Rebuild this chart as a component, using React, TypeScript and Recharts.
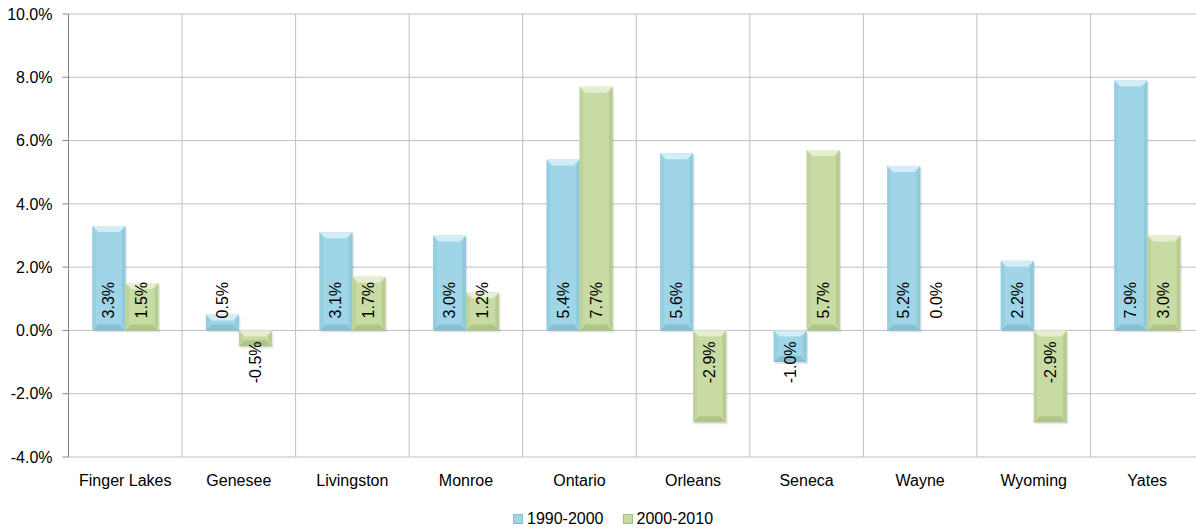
import React from 'react';
import { BarChart, Bar, XAxis, YAxis, CartesianGrid, Legend, LabelList } from 'recharts';

const counties = ['Finger Lakes', 'Genesee', 'Livingston', 'Monroe', 'Ontario', 'Orleans', 'Seneca', 'Wayne', 'Wyoming', 'Yates'];
const growth1990s = [3.3, 0.5, 3.1, 3.0, 5.4, 5.6, -1.0, 5.2, 2.2, 7.9];
const growth2000s = [1.5, -0.5, 1.7, 1.2, 7.7, -2.9, 5.7, 0.0, -2.9, 3.0];
const yTicks = [-4, -2, 0, 2, 4, 6, 8, 10];

const FONT = '"Liberation Sans", Arial, sans-serif';

const palette = {
    blue: { main: '#9fd5e6', light: '#d2edf5', dark: '#88c0d2', side: '#8ec9dc' },
    green: { main: '#c7dba3', light: '#e4eed3', dark: '#afc48a', side: '#b7cc92' }
};

const data = counties.map((name, i) => ({
    name,
    a: growth1990s[i],
    b: growth2000s[i]
}));

const bevelShape = (colors: typeof palette.blue) => (props: any) => {
    const { x, y, width, height } = props;
    const top = Math.min(y, y + height);
    const h = Math.abs(height);
    const w = width;
    if (h < 0.5) return <g />;
    const b = Math.min(6, h / 2, w / 2);
    return (
        <g>
            <rect x={x + 1.5} y={top + 2} width={w} height={h} fill="rgba(0,0,0,0.10)" />
            <rect x={x} y={top} width={w} height={h} fill={colors.main} />
            <polygon points={`${x},${top} ${x + w},${top} ${x + w - b},${top + b} ${x + b},${top + b}`} fill={colors.light} />
            <polygon points={`${x},${top + h} ${x + w},${top + h} ${x + w - b},${top + h - b} ${x + b},${top + h - b}`} fill={colors.dark} />
            <polygon points={`${x + w},${top} ${x + w},${top + h} ${x + w - b * 0.6},${top + h - b} ${x + w - b * 0.6},${top + b}`} fill={colors.side} />
            <polygon points={`${x},${top} ${x},${top + h} ${x + b * 0.6},${top + h - b} ${x + b * 0.6},${top + b}`} fill={colors.side} opacity={0.6} />
        </g>
    );
};

const BaseLabel = (props: any) => {
    const { x, y, width, height, value } = props;
    const cx = x + width / 2;
    const positive = value >= 0;
    const base = positive ? Math.max(y, y + height) : Math.min(y, y + height);
    const ay = positive ? base - 12 : base + 11;
    return (
        <text
            x={cx}
            y={ay}
            transform={`rotate(-90, ${cx}, ${ay})`}
            textAnchor={positive ? 'start' : 'end'}
            dominantBaseline="central"
            fontFamily={FONT}
            fontSize={16}
            fill="#000"
        >
            {Number(value).toFixed(1)}%
        </text>
    );
};

const LegendBox = () => (
    <div style={{ height: 24, display: 'flex', alignItems: 'center', paddingLeft: 513, fontFamily: FONT, fontSize: 16, color: '#000' }}>
        <span style={{ width: 10, height: 10, background: palette.blue.main, border: '1px solid #7fbfd2', boxSizing: 'border-box', marginRight: 4 }} />
        <span style={{ marginRight: 19 }}>1990-2000</span>
        <span style={{ width: 10, height: 10, background: palette.green.main, border: '1px solid #a9bf80', boxSizing: 'border-box', marginRight: 4 }} />
        <span>2000-2010</span>
    </div>
);

export default function App() {
    return (
        <div style={{ position: 'absolute', left: 0, top: 0, width: 1196, height: 531, overflow: 'hidden', background: '#fff' }}>
            <BarChart
                width={1204}
                height={531}
                data={data}
                margin={{ top: 14, right: 0, left: 0, bottom: 0 }}
                barCategoryGap="21%"
                barGap={0}
            >
                <CartesianGrid
                    stroke="#bfbfbf"
                    verticalCoordinatesGenerator={({ offset }: any) =>
                        counties.map((_, i) => offset.left + (offset.width / counties.length) * i).concat(offset.left + offset.width)
                    }
                />
                <XAxis
                    dataKey="name"
                    axisLine={false}
                    tickLine={false}
                    height={50}
                    tickMargin={12}
                    tick={{ fontFamily: FONT, fontSize: 16, fill: '#000' }}
                    interval={0}
                />
                <YAxis
                    width={68.5}
                    domain={[-4, 10]}
                    ticks={yTicks}
                    interval={0}
                    tickFormatter={(v: number) => `${v.toFixed(1)}%`}
                    axisLine={{ stroke: '#868686' }}
                    tickLine={{ stroke: '#868686' }}
                    tickSize={6}
                    tickMargin={10}
                    tick={{ fontFamily: FONT, fontSize: 16, fill: '#000' }}
                />
                <Legend verticalAlign="bottom" height={24} content={<LegendBox />} />
                <Bar dataKey="a" name="1990-2000" shape={bevelShape(palette.blue)} isAnimationActive={false}>
                    <LabelList dataKey="a" content={<BaseLabel />} />
                </Bar>
                <Bar dataKey="b" name="2000-2010" shape={bevelShape(palette.green)} isAnimationActive={false}>
                    <LabelList dataKey="b" content={<BaseLabel />} />
                </Bar>
            </BarChart>
        </div>
    );
}
